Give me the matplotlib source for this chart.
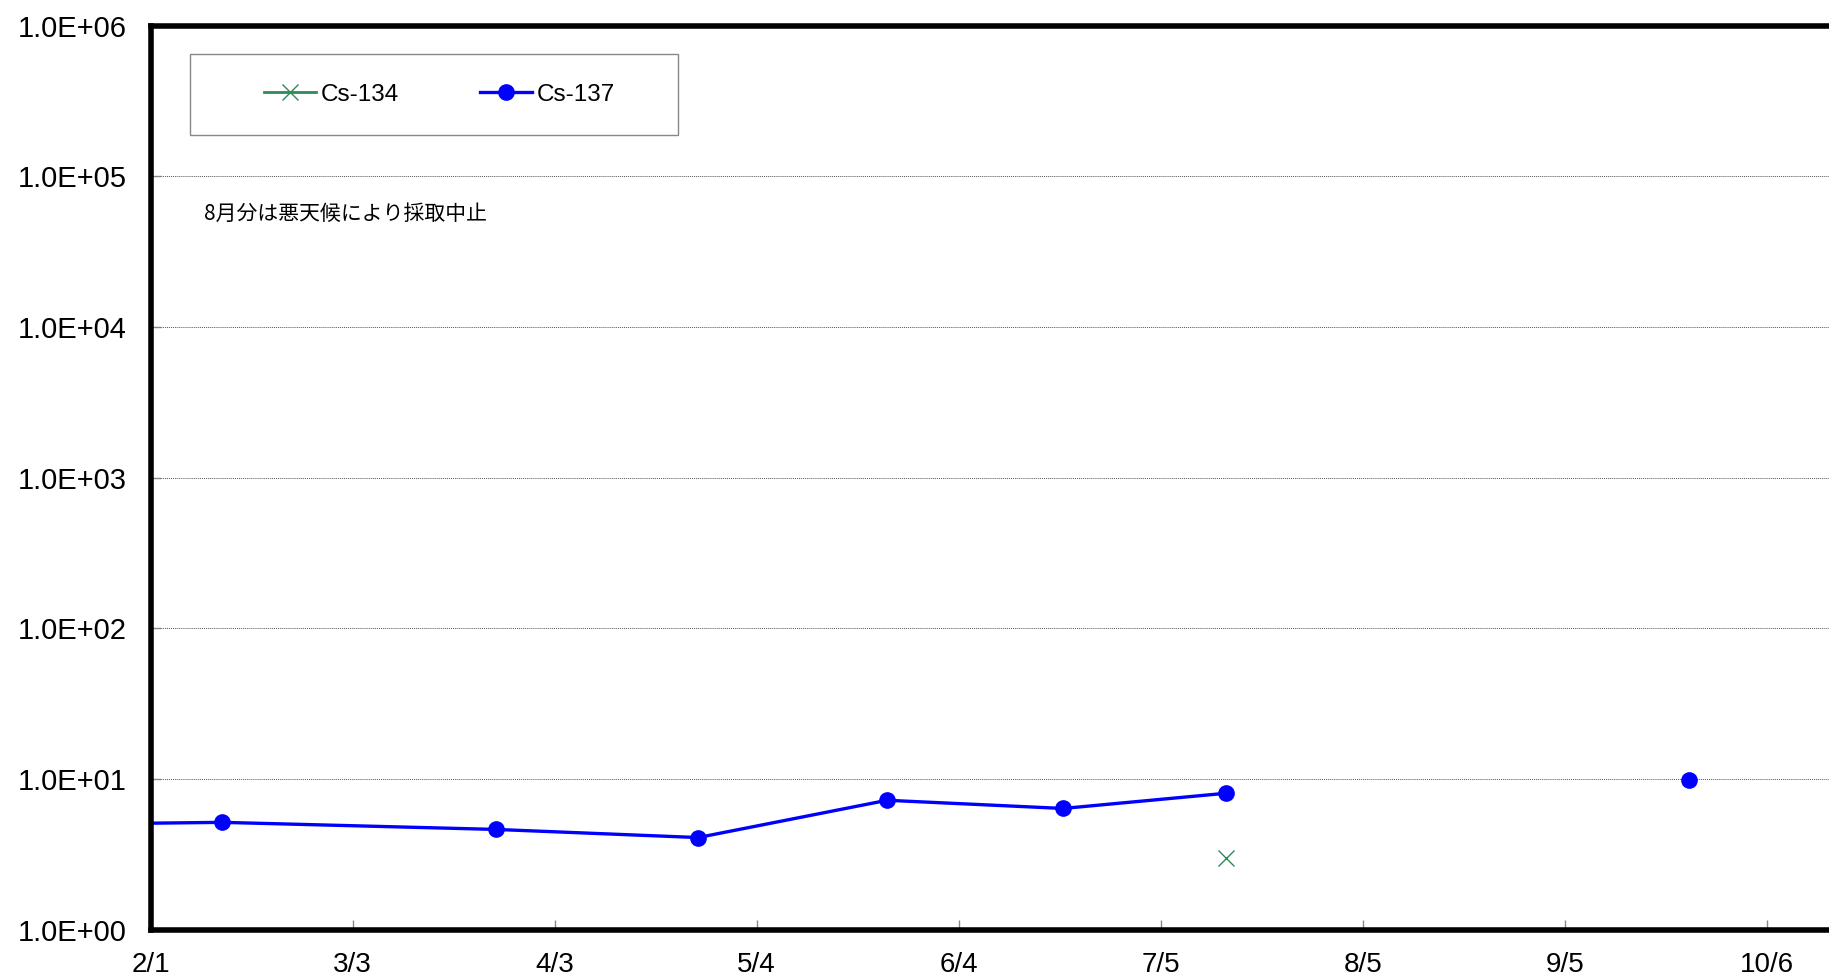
import matplotlib
matplotlib.use("Agg")
import matplotlib.pyplot as plt
import matplotlib.dates as mdates
from matplotlib.patches import Rectangle
import numpy as np

plt.rcParams['font.family'] = ['Liberation Sans', 'DejaVu Sans']

# sampling dates (2012, leap year) and activity values
dates = np.array(['2012-01-16', '2012-02-12', '2012-03-25', '2012-04-25',
                  '2012-05-24', '2012-06-20', '2012-07-15', '2012-08-15',
                  '2012-09-24'], dtype='datetime64[D]')
cs137 = [5.0, 5.16, 4.63, 4.09, 7.23, 6.38, 8.05, np.nan, 9.8]
cs134 = [np.nan, np.nan, np.nan, np.nan, np.nan, np.nan, 2.97, np.nan, np.nan]

tick_dates = np.array(['2012-02-01', '2012-03-03', '2012-04-03', '2012-05-04',
                       '2012-06-04', '2012-07-05', '2012-08-05', '2012-09-05',
                       '2012-10-06'], dtype='datetime64[D]')
tick_labels = ['2/1', '3/3', '4/3', '5/4', '6/4', '7/5', '8/5', '9/5', '10/6']
y_ticks = [1, 10, 100, 1000, 10000, 100000, 1000000]
y_labels = ['1.0E+00', '1.0E+01', '1.0E+02', '1.0E+03', '1.0E+04', '1.0E+05', '1.0E+06']

note = '8月分は悪天候により採取中止'


def to_num(d):
    return mdates.date2num(d.astype('datetime64[s]').astype(object))


fig = plt.figure(figsize=(18.29, 9.8), dpi=100)
ax = fig.add_axes([0.0823, 0.0513, 0.9177, 0.9225])

x = to_num(dates)
ax.plot(x, cs134, color='#2e8b57', marker='x', markersize=11, lw=2.0,
        markeredgewidth=1.0, label='Cs-134')
ax.plot(x, cs137, color='#0000ff', marker='o', markersize=11, lw=2.4,
        label='Cs-137')

ax.set_yscale('log')
ax.set_ylim(1, 1e6)
ax.set_yticks(y_ticks)
ax.set_yticklabels(y_labels)
ax.minorticks_off()

ax.set_xticks(to_num(tick_dates))
ax.set_xticklabels(tick_labels)
start = to_num(np.datetime64('2012-02-01'))
ax.set_xlim(start, start + 257.5)

ax.grid(axis='y', which='major', linestyle=(0, (1, 1)), color='#555555', lw=0.7)
ax.set_axisbelow(True)

for side in ['left', 'bottom', 'top']:
    ax.spines[side].set_linewidth(4)
    ax.spines[side].set_color('black')
ax.spines['right'].set_visible(False)

ax.tick_params(axis='x', direction='in', length=7, width=1, color='#888888',
               labelsize=20, pad=16)
ax.tick_params(axis='y', direction='in', length=7, width=1, color='#888888',
               labelsize=21, pad=17)

# legend box drawn separately, entries centred in it
ax.add_patch(Rectangle((0.0235, 0.879), 0.2907, 0.0897, transform=ax.transAxes,
                       facecolor='white', edgecolor='#888888', lw=1.0, zorder=4))
leg = ax.legend(loc='center', bbox_to_anchor=(0.1722, 0.9235), ncol=2,
                fontsize=17.5, frameon=False, handlelength=2.14,
                handletextpad=0.2, columnspacing=3.3)
leg.set_zorder(5)

ax.text(204, 980 - 214, note, transform=None, fontsize=15,
        family=['Noto Sans CJK JP', 'DejaVu Sans'], va='center', ha='left')

fig.savefig('out.png', dpi=100)
